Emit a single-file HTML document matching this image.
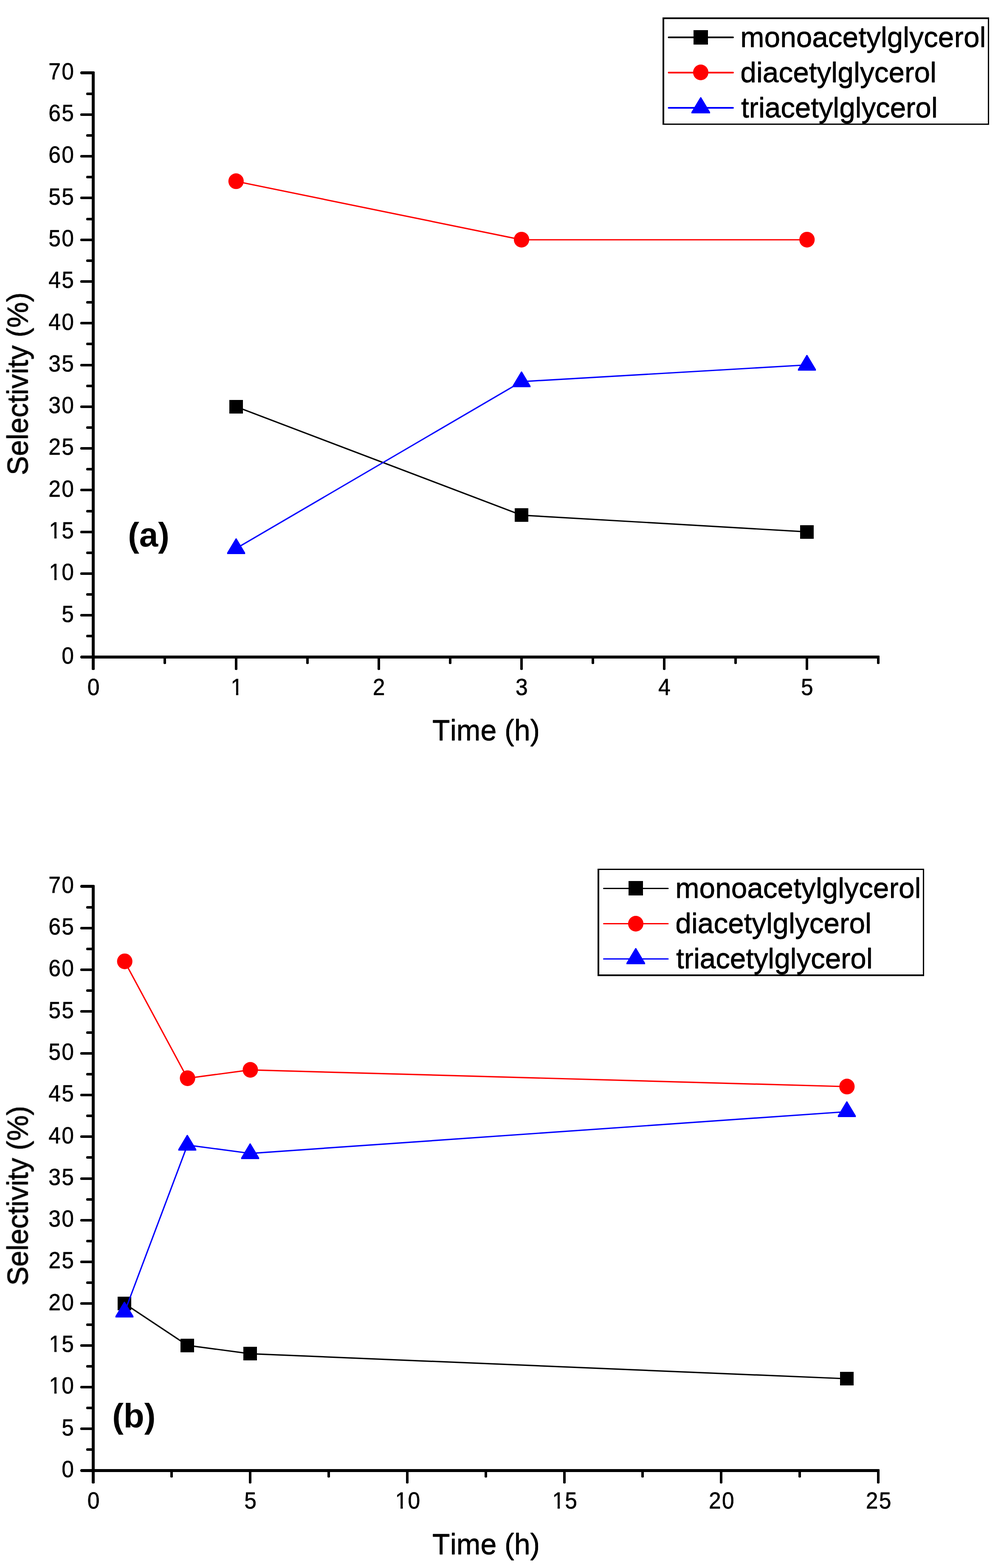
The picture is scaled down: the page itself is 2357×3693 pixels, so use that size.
<!DOCTYPE html>
<html lang="en">
<head>
<meta charset="utf-8">
<title>Selectivity vs. time</title>
<style>
html,body{margin:0;padding:0;background:#fff;}
body{width:2357px;height:3693px;}
svg{display:block;}
svg text{font-family:"Liberation Sans",sans-serif;font-kerning:none;fill:#000;}
svg .tk text{stroke:#000;stroke-width:0.7px;stroke-linejoin:round;}
svg text.hv{filter:drop-shadow(0 1px 0 #000);stroke:#000;stroke-width:0.3px;stroke-linejoin:round;}
</style>
</head>
<body>
<svg width="2357" height="3693" viewBox="0 0 2357 3693" role="img" aria-label="Selectivity versus time for monoacetylglycerol, diacetylglycerol and triacetylglycerol">
<defs>
<clipPath id="c1" clipPathUnits="userSpaceOnUse"><path clip-rule="evenodd" d="M-20 -70H120V30H-20Z M1 -7H13.2V3H1Z M18.75 -7H31V3H18.75Z"/></clipPath>
</defs>
<rect width="2357" height="3693" fill="#fff"/>
<g id="chart-a">
<g fill="#000">
<polygon points="216,169.5 217.5,168 221.5,168 223,169.5 223,1576.5 221.5,1578 217.5,1578 216,1576.5"/>
<polygon points="191,1544 189,1546 189,1549 191,1551 2070,1551 2071,1550 2071,1545 2070,1544"/>
<polygon points="191,168 189,170 189,173 191,175 220,175 220,168"/>
<polygon points="204.5,1495 203,1496.5 203,1499.5 204.5,1501 217,1501 217,1495"/>
<polygon points="190.5,1446 189,1447.5 189,1450.5 190.5,1452 217,1452 217,1446"/>
<polygon points="204.5,1397 203,1398.5 203,1401.5 204.5,1403 217,1403 217,1397"/>
<polygon points="190.5,1348 189,1349.5 189,1352.5 190.5,1354 217,1354 217,1348"/>
<polygon points="204.5,1299 203,1300.5 203,1303.5 204.5,1305 217,1305 217,1299"/>
<polygon points="190.5,1250 189,1251.5 189,1254.5 190.5,1256 217,1256 217,1250"/>
<polygon points="204.5,1201 203,1202.5 203,1205.5 204.5,1207 217,1207 217,1201"/>
<polygon points="190.5,1151 189,1152.5 189,1155.5 190.5,1157 217,1157 217,1151"/>
<polygon points="204.5,1102 203,1103.5 203,1106.5 204.5,1108 217,1108 217,1102"/>
<polygon points="190.5,1053 189,1054.5 189,1057.5 190.5,1059 217,1059 217,1053"/>
<polygon points="204.5,1004 203,1005.5 203,1008.5 204.5,1010 217,1010 217,1004"/>
<polygon points="190.5,955 189,956.5 189,959.5 190.5,961 217,961 217,955"/>
<polygon points="204.5,906 203,907.5 203,910.5 204.5,912 217,912 217,906"/>
<polygon points="190.5,857 189,858.5 189,861.5 190.5,863 217,863 217,857"/>
<polygon points="204.5,807 203,808.5 203,811.5 204.5,813 217,813 217,807"/>
<polygon points="190.5,758 189,759.5 189,762.5 190.5,764 217,764 217,758"/>
<polygon points="204.5,709 203,710.5 203,713.5 204.5,715 217,715 217,709"/>
<polygon points="190.5,660 189,661.5 189,664.5 190.5,666 217,666 217,660"/>
<polygon points="204.5,611 203,612.5 203,615.5 204.5,617 217,617 217,611"/>
<polygon points="190.5,562 189,563.5 189,566.5 190.5,568 217,568 217,562"/>
<polygon points="204.5,513 203,514.5 203,517.5 204.5,519 217,519 217,513"/>
<polygon points="190.5,463 189,464.5 189,467.5 190.5,469 217,469 217,463"/>
<polygon points="204.5,414 203,415.5 203,418.5 204.5,420 217,420 217,414"/>
<polygon points="190.5,365 189,366.5 189,369.5 190.5,371 217,371 217,365"/>
<polygon points="204.5,316 203,317.5 203,320.5 204.5,322 217,322 217,316"/>
<polygon points="190.5,267 189,268.5 189,271.5 190.5,273 217,273 217,267"/>
<polygon points="204.5,218 203,219.5 203,222.5 204.5,224 217,224 217,218"/>
<polygon points="553,1550 559,1550 559,1576.5 557.5,1578 554.5,1578 553,1576.5"/>
<polygon points="889,1550 895,1550 895,1576.5 893.5,1578 890.5,1578 889,1576.5"/>
<polygon points="1225,1550 1231,1550 1231,1576.5 1229.5,1578 1226.5,1578 1225,1576.5"/>
<polygon points="1561,1550 1567,1550 1567,1576.5 1565.5,1578 1562.5,1578 1561,1576.5"/>
<polygon points="1897,1550 1903,1550 1903,1576.5 1901.5,1578 1898.5,1578 1897,1576.5"/>
<polygon points="385,1550 391,1550 391,1562.5 389.5,1564 386.5,1564 385,1562.5"/>
<polygon points="721,1550 727,1550 727,1562.5 725.5,1564 722.5,1564 721,1562.5"/>
<polygon points="1057,1550 1063,1550 1063,1562.5 1061.5,1564 1058.5,1564 1057,1562.5"/>
<polygon points="1393,1550 1399,1550 1399,1562.5 1397.5,1564 1394.5,1564 1393,1562.5"/>
<polygon points="1729,1550 1735,1550 1735,1562.5 1733.5,1564 1730.5,1564 1729,1562.5"/>
<polygon points="2065,1550 2071,1550 2071,1562.5 2069.5,1564 2066.5,1564 2065,1562.5"/>
</g>
<g class="tk" font-size="54">
<text transform="translate(145.32 1562.9) scale(0.955 1.02)" x="0">0</text>
<text transform="translate(145.32 1464.61) scale(0.955 1.02)" x="0">5</text>
<text transform="translate(115.35 1366.33) scale(0.955 1.02)" x="0 31.39" clip-path="url(#c1)">10</text>
<text transform="translate(115.35 1268.04) scale(0.955 1.02)" x="0 31.39" clip-path="url(#c1)">15</text>
<text transform="translate(114.35 1169.76) scale(0.955 1.02)" x="0 32.43">20</text>
<text transform="translate(114.35 1071.47) scale(0.955 1.02)" x="0 32.43">25</text>
<text transform="translate(114.35 973.19) scale(0.955 1.02)" x="0 32.43">30</text>
<text transform="translate(114.35 874.9) scale(0.955 1.02)" x="0 32.43">35</text>
<text transform="translate(114.35 776.61) scale(0.955 1.02)" x="0 32.43">40</text>
<text transform="translate(114.35 678.33) scale(0.955 1.02)" x="0 32.43">45</text>
<text transform="translate(114.35 580.04) scale(0.955 1.02)" x="0 32.43">50</text>
<text transform="translate(114.35 481.76) scale(0.955 1.02)" x="0 32.43">55</text>
<text transform="translate(114.35 383.47) scale(0.955 1.02)" x="0 32.43">60</text>
<text transform="translate(114.35 285.19) scale(0.955 1.02)" x="0 32.43">65</text>
<text transform="translate(114.35 186.9) scale(0.955 1.02)" x="0 32.43">70</text>
<text transform="translate(205.66 1636.9) scale(0.955 1.02)" x="0">0</text>
<text transform="translate(543.25 1636.9) scale(0.955 1.02)" x="0" clip-path="url(#c1)">1</text>
<text transform="translate(877.84 1636.9) scale(0.955 1.02)" x="0">2</text>
<text transform="translate(1213.93 1636.9) scale(0.955 1.02)" x="0">3</text>
<text transform="translate(1550.02 1636.9) scale(0.955 1.02)" x="0">4</text>
<text transform="translate(1886.11 1636.9) scale(0.955 1.02)" x="0">5</text>
</g>
<text class="hv" x="1144.65" y="1743.2" font-size="68" text-anchor="middle">Time (h)</text>
<text class="hv" transform="translate(64.7 904.1) rotate(-90)" font-size="68" text-anchor="middle" letter-spacing="0">Selectivity (%)</text>
<g id="series-a-0">
<line x1="555.59" y1="957.79" x2="1227.77" y2="1213.33" stroke="#000000" stroke-width="3.2"/>
<line x1="1227.77" y1="1213.33" x2="1899.95" y2="1252.64" stroke="#000000" stroke-width="3.2"/>
<rect x="540" y="942" width="32" height="32" fill="#000000"/>
<rect x="1212" y="1197" width="32" height="32" fill="#000000"/>
<rect x="1884" y="1237" width="32" height="32" fill="#000000"/>
</g>
<g id="series-a-1">
<line x1="555.59" y1="427.04" x2="1227.77" y2="564.64" stroke="#ff0000" stroke-width="3.2"/>
<line x1="1227.77" y1="564.64" x2="1899.95" y2="564.64" stroke="#ff0000" stroke-width="3"/>
<ellipse cx="555.84" cy="426.84" rx="18.1" ry="18.5" fill="#ff0000"/>
<ellipse cx="1228.02" cy="564.44" rx="18.1" ry="18.5" fill="#ff0000"/>
<ellipse cx="1900.2" cy="564.44" rx="18.1" ry="18.5" fill="#ff0000"/>
</g>
<g id="series-a-2">
<line x1="555.59" y1="1291.96" x2="1227.77" y2="898.81" stroke="#0000ff" stroke-width="3.2"/>
<line x1="1227.77" y1="898.81" x2="1899.95" y2="859.5" stroke="#0000ff" stroke-width="3.2"/>
<polygon points="555,1268 557,1268 577.2,1301.8 577.2,1305 534.8,1305 534.8,1301.8" fill="#0000ff"/>
<polygon points="1227,875 1229,875 1249.2,908.8 1249.2,912 1206.8,912 1206.8,908.8" fill="#0000ff"/>
<polygon points="1899,836 1901,836 1921.2,869.8 1921.2,873 1878.8,873 1878.8,869.8" fill="#0000ff"/>
</g>
<g id="legend-a" transform="translate(1560 41)">
<rect x="0" y="0" width="769" height="253" fill="#fff"/>
<path d="M0 0H769V253H0Z M4 4V250H766V4Z" fill="#000" fill-rule="evenodd"/>
<line x1="14.5" y1="47" x2="166" y2="47" stroke="#000000" stroke-width="4" stroke-linecap="round"/>
<rect x="73" y="30" width="34" height="34" fill="#000000"/>
<text class="hv" x="183.3" y="69.3" font-size="67.55" letter-spacing="0">monoacetylglycerol</text>
<line x1="14.5" y1="130" x2="166" y2="130" stroke="#ff0000" stroke-width="4" stroke-linecap="round"/>
<ellipse cx="90" cy="129.5" rx="18.1" ry="18.5" fill="#ff0000"/>
<text class="hv" x="183.3" y="152.3" font-size="67.55" letter-spacing="0">diacetylglycerol</text>
<line x1="14.5" y1="213" x2="166" y2="213" stroke="#0000ff" stroke-width="4" stroke-linecap="round"/>
<polygon points="89,188 91,188 112,223 112,226 68,226 68,223" fill="#0000ff"/>
<text class="hv" x="185" y="235.3" font-size="67.55" letter-spacing="-0.17">triacetylglycerol</text>
</g>
<text x="301.2" y="1287.3" font-size="80" font-weight="bold">(a)</text>
</g>
<g id="chart-b">
<g fill="#000">
<polygon points="216,2085.5 217.5,2084 221.5,2084 223,2085.5 223,3492.5 221.5,3494 217.5,3494 216,3492.5"/>
<polygon points="191,3460 189,3462 189,3465 191,3467 2070,3467 2071,3466 2071,3461 2070,3460"/>
<polygon points="191,2084 189,2086 189,2089 191,2091 220,2091 220,2084"/>
<polygon points="204.5,3411 203,3412.5 203,3415.5 204.5,3417 217,3417 217,3411"/>
<polygon points="190.5,3362 189,3363.5 189,3366.5 190.5,3368 217,3368 217,3362"/>
<polygon points="204.5,3313 203,3314.5 203,3317.5 204.5,3319 217,3319 217,3313"/>
<polygon points="190.5,3264 189,3265.5 189,3268.5 190.5,3270 217,3270 217,3264"/>
<polygon points="204.5,3215 203,3216.5 203,3219.5 204.5,3221 217,3221 217,3215"/>
<polygon points="190.5,3166 189,3167.5 189,3170.5 190.5,3172 217,3172 217,3166"/>
<polygon points="204.5,3117 203,3118.5 203,3121.5 204.5,3123 217,3123 217,3117"/>
<polygon points="190.5,3067 189,3068.5 189,3071.5 190.5,3073 217,3073 217,3067"/>
<polygon points="204.5,3018 203,3019.5 203,3022.5 204.5,3024 217,3024 217,3018"/>
<polygon points="190.5,2969 189,2970.5 189,2973.5 190.5,2975 217,2975 217,2969"/>
<polygon points="204.5,2920 203,2921.5 203,2924.5 204.5,2926 217,2926 217,2920"/>
<polygon points="190.5,2871 189,2872.5 189,2875.5 190.5,2877 217,2877 217,2871"/>
<polygon points="204.5,2822 203,2823.5 203,2826.5 204.5,2828 217,2828 217,2822"/>
<polygon points="190.5,2773 189,2774.5 189,2777.5 190.5,2779 217,2779 217,2773"/>
<polygon points="204.5,2723 203,2724.5 203,2727.5 204.5,2729 217,2729 217,2723"/>
<polygon points="190.5,2674 189,2675.5 189,2678.5 190.5,2680 217,2680 217,2674"/>
<polygon points="204.5,2625 203,2626.5 203,2629.5 204.5,2631 217,2631 217,2625"/>
<polygon points="190.5,2576 189,2577.5 189,2580.5 190.5,2582 217,2582 217,2576"/>
<polygon points="204.5,2527 203,2528.5 203,2531.5 204.5,2533 217,2533 217,2527"/>
<polygon points="190.5,2478 189,2479.5 189,2482.5 190.5,2484 217,2484 217,2478"/>
<polygon points="204.5,2429 203,2430.5 203,2433.5 204.5,2435 217,2435 217,2429"/>
<polygon points="190.5,2379 189,2380.5 189,2383.5 190.5,2385 217,2385 217,2379"/>
<polygon points="204.5,2330 203,2331.5 203,2334.5 204.5,2336 217,2336 217,2330"/>
<polygon points="190.5,2281 189,2282.5 189,2285.5 190.5,2287 217,2287 217,2281"/>
<polygon points="204.5,2232 203,2233.5 203,2236.5 204.5,2238 217,2238 217,2232"/>
<polygon points="190.5,2183 189,2184.5 189,2187.5 190.5,2189 217,2189 217,2183"/>
<polygon points="204.5,2134 203,2135.5 203,2138.5 204.5,2140 217,2140 217,2134"/>
<polygon points="586,3466 592,3466 592,3492.5 590.5,3494 587.5,3494 586,3492.5"/>
<polygon points="956,3466 962,3466 962,3492.5 960.5,3494 957.5,3494 956,3492.5"/>
<polygon points="1326,3466 1332,3466 1332,3492.5 1330.5,3494 1327.5,3494 1326,3492.5"/>
<polygon points="1695,3466 1701,3466 1701,3492.5 1699.5,3494 1696.5,3494 1695,3492.5"/>
<polygon points="2065,3466 2071,3466 2071,3492.5 2069.5,3494 2066.5,3494 2065,3492.5"/>
<polygon points="401,3466 407,3466 407,3478.5 405.5,3480 402.5,3480 401,3478.5"/>
<polygon points="771,3466 777,3466 777,3478.5 775.5,3480 772.5,3480 771,3478.5"/>
<polygon points="1141,3466 1147,3466 1147,3478.5 1145.5,3480 1142.5,3480 1141,3478.5"/>
<polygon points="1510,3466 1516,3466 1516,3478.5 1514.5,3480 1511.5,3480 1510,3478.5"/>
<polygon points="1880,3466 1886,3466 1886,3478.5 1884.5,3480 1881.5,3480 1880,3478.5"/>
</g>
<g class="tk" font-size="54">
<text transform="translate(145.32 3478.9) scale(0.955 1.02)" x="0">0</text>
<text transform="translate(145.32 3380.61) scale(0.955 1.02)" x="0">5</text>
<text transform="translate(115.35 3282.33) scale(0.955 1.02)" x="0 31.39" clip-path="url(#c1)">10</text>
<text transform="translate(115.35 3184.04) scale(0.955 1.02)" x="0 31.39" clip-path="url(#c1)">15</text>
<text transform="translate(114.35 3085.76) scale(0.955 1.02)" x="0 32.43">20</text>
<text transform="translate(114.35 2987.47) scale(0.955 1.02)" x="0 32.43">25</text>
<text transform="translate(114.35 2889.19) scale(0.955 1.02)" x="0 32.43">30</text>
<text transform="translate(114.35 2790.9) scale(0.955 1.02)" x="0 32.43">35</text>
<text transform="translate(114.35 2692.61) scale(0.955 1.02)" x="0 32.43">40</text>
<text transform="translate(114.35 2594.33) scale(0.955 1.02)" x="0 32.43">45</text>
<text transform="translate(114.35 2496.04) scale(0.955 1.02)" x="0 32.43">50</text>
<text transform="translate(114.35 2397.76) scale(0.955 1.02)" x="0 32.43">55</text>
<text transform="translate(114.35 2299.47) scale(0.955 1.02)" x="0 32.43">60</text>
<text transform="translate(114.35 2201.19) scale(0.955 1.02)" x="0 32.43">65</text>
<text transform="translate(114.35 2102.9) scale(0.955 1.02)" x="0 32.43">70</text>
<text transform="translate(205.66 3552.9) scale(0.955 1.02)" x="0">0</text>
<text transform="translate(575.36 3552.9) scale(0.955 1.02)" x="0">5</text>
<text transform="translate(930.57 3552.9) scale(0.955 1.02)" x="0 31.39" clip-path="url(#c1)">10</text>
<text transform="translate(1300.27 3552.9) scale(0.955 1.02)" x="0 31.39" clip-path="url(#c1)">15</text>
<text transform="translate(1668.97 3552.9) scale(0.955 1.02)" x="0 32.43">20</text>
<text transform="translate(2038.67 3552.9) scale(0.955 1.02)" x="0 32.43">25</text>
</g>
<text class="hv" x="1144.65" y="3660.3" font-size="68" text-anchor="middle">Time (h)</text>
<text class="hv" transform="translate(64.7 2816.6) rotate(-90)" font-size="68" text-anchor="middle" letter-spacing="-0.5">Selectivity (%)</text>
<g id="series-b-0">
<line x1="293.44" y1="3070.36" x2="441.32" y2="3168.64" stroke="#000000" stroke-width="3.2"/>
<line x1="441.32" y1="3168.64" x2="589.2" y2="3188.3" stroke="#000000" stroke-width="3.2"/>
<line x1="589.2" y1="3188.3" x2="1994.06" y2="3247.27" stroke="#000000" stroke-width="3.2"/>
<rect x="277" y="3054" width="32" height="32" fill="#000000"/>
<rect x="425" y="3153" width="32" height="32" fill="#000000"/>
<rect x="573" y="3172" width="32" height="32" fill="#000000"/>
<rect x="1978" y="3231" width="32" height="32" fill="#000000"/>
</g>
<g id="series-b-1">
<line x1="293.44" y1="2264.41" x2="441.32" y2="2539.61" stroke="#ff0000" stroke-width="3.2"/>
<line x1="441.32" y1="2539.61" x2="589.2" y2="2519.96" stroke="#ff0000" stroke-width="3.2"/>
<line x1="589.2" y1="2519.96" x2="1994.06" y2="2559.27" stroke="#ff0000" stroke-width="3.2"/>
<ellipse cx="293.69" cy="2264.21" rx="18.1" ry="18.5" fill="#ff0000"/>
<ellipse cx="441.57" cy="2539.41" rx="18.1" ry="18.5" fill="#ff0000"/>
<ellipse cx="589.45" cy="2519.76" rx="18.1" ry="18.5" fill="#ff0000"/>
<ellipse cx="1994.31" cy="2559.07" rx="18.1" ry="18.5" fill="#ff0000"/>
</g>
<g id="series-b-2">
<line x1="293.44" y1="3090.01" x2="441.32" y2="2696.87" stroke="#0000ff" stroke-width="3.2"/>
<line x1="441.32" y1="2696.87" x2="589.2" y2="2716.53" stroke="#0000ff" stroke-width="3.2"/>
<line x1="589.2" y1="2716.53" x2="1994.06" y2="2618.24" stroke="#0000ff" stroke-width="3.2"/>
<polygon points="292,3066 294,3066 314.2,3099.8 314.2,3103 271.8,3103 271.8,3099.8" fill="#0000ff"/>
<polygon points="440,2673 442,2673 462.2,2706.8 462.2,2710 419.8,2710 419.8,2706.8" fill="#0000ff"/>
<polygon points="588,2693 590,2693 610.2,2726.8 610.2,2730 567.8,2730 567.8,2726.8" fill="#0000ff"/>
<polygon points="1993,2594 1995,2594 2015.2,2627.8 2015.2,2631 1972.8,2631 1972.8,2627.8" fill="#0000ff"/>
</g>
<g id="legend-b" transform="translate(1407 2046)">
<rect x="0" y="0" width="769" height="253" fill="#fff"/>
<path d="M0 0H769V253H0Z M4 3V249H766V3Z" fill="#000" fill-rule="evenodd"/>
<line x1="14.5" y1="46.5" x2="166" y2="46.5" stroke="#000000" stroke-width="3" stroke-linecap="round"/>
<rect x="73" y="29" width="34" height="34" fill="#000000"/>
<text class="hv" x="183.3" y="68.3" font-size="67.55" letter-spacing="0">monoacetylglycerol</text>
<line x1="14.5" y1="129.5" x2="166" y2="129.5" stroke="#ff0000" stroke-width="3" stroke-linecap="round"/>
<ellipse cx="90" cy="129.5" rx="18.1" ry="18.5" fill="#ff0000"/>
<text class="hv" x="183.3" y="151.3" font-size="67.55" letter-spacing="0">diacetylglycerol</text>
<line x1="14.5" y1="212.5" x2="166" y2="212.5" stroke="#0000ff" stroke-width="3" stroke-linecap="round"/>
<polygon points="89,187 91,187 112,222 112,225 68,225 68,222" fill="#0000ff"/>
<text class="hv" x="185" y="234.3" font-size="67.55" letter-spacing="-0.17">triacetylglycerol</text>
</g>
<text x="264.2" y="3361.9" font-size="80" font-weight="bold">(b)</text>
</g>
</svg>
</body>
</html>
